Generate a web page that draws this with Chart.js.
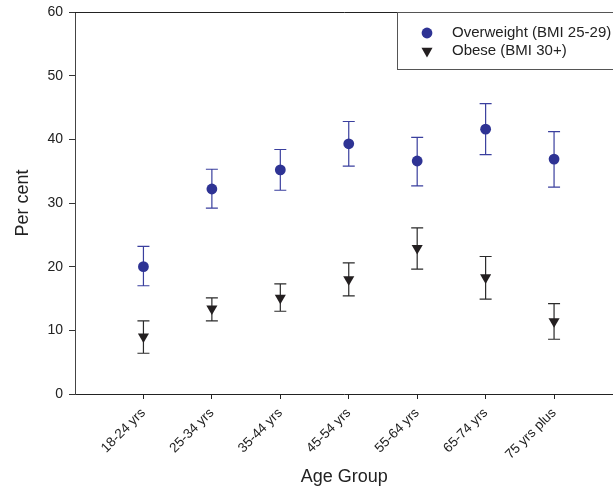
<!DOCTYPE html>
<html>
<head>
<meta charset="utf-8">
<script src="https://cdn.jsdelivr.net/npm/chart.js@4.4.1/dist/chart.umd.min.js"></script>
<style>
  html, body { margin: 0; padding: 0; background: #fff; overflow: hidden; }
  canvas { display: block; }
</style>
</head>
<body>
<!-- a little wider than the page so the plot runs off the right edge -->
<canvas id="bmiChart" width="620" height="488"></canvas>
<script>
// Age groups along the x axis
const ageGroups = ['18-24 yrs', '25-34 yrs', '35-44 yrs', '45-54 yrs', '55-64 yrs', '65-74 yrs', '75 yrs plus'];

// Overweight (BMI 25-29): estimate and confidence limits
const overweight = [20.0, 32.2, 35.2, 39.3, 36.6, 41.6, 36.9];
const overweightLow = [17.0, 29.2, 32.0, 35.8, 32.7, 37.6, 32.5];
const overweightHigh = [23.2, 35.3, 38.4, 42.8, 40.3, 45.6, 41.2];

// Obese (BMI 30+): estimate and confidence limits
const obese = [9.0, 13.4, 15.1, 18.0, 22.9, 18.3, 11.4];
const obeseLow = [6.4, 11.5, 13.0, 15.4, 19.6, 14.9, 8.6];
const obeseHigh = [11.5, 15.1, 17.3, 20.6, 26.1, 21.6, 14.2];

const yTicks = [0, 10, 20, 30, 40, 50, 60];

const FONT = 'Liberation Sans, Arial, sans-serif';

function toPoints(values) {
    return values.map((v, i) => ({ x: i, y: v }));
}

// vertical error bars with caps, drawn under the markers
const errorBars = {
    id: 'errorBars',
    beforeDatasetsDraw(chart) {
        const { ctx, scales: { x, y } } = chart;
        chart.data.datasets.forEach(ds => {
            ctx.save();
            ctx.strokeStyle = ds.barColor;
            ctx.lineWidth = 1.2;
            ds.low.forEach((lo, i) => {
                const px = x.getPixelForValue(i);
                const y1 = y.getPixelForValue(lo);
                const y2 = y.getPixelForValue(ds.high[i]);
                ctx.beginPath();
                ctx.moveTo(px, y1); ctx.lineTo(px, y2);
                ctx.moveTo(px - 6, y1); ctx.lineTo(px + 6, y1);
                ctx.moveTo(px - 6, y2); ctx.lineTo(px + 6, y2);
                ctx.stroke();
            });
            ctx.restore();
        });
    }
};

// top frame line and the boxed legend in the upper right
const frameAndLegend = {
    id: 'frameAndLegend',
    afterDraw(chart) {
        const { ctx, chartArea } = chart;
        ctx.save();
        ctx.strokeStyle = '#222';
        ctx.lineWidth = 1;
        ctx.beginPath();
        ctx.moveTo(chartArea.left, chartArea.top + 0.5);
        ctx.lineTo(chartArea.right, chartArea.top + 0.5);
        ctx.stroke();

        ctx.fillStyle = '#fff';
        ctx.fillRect(397.5, 12.5, 230, 57);
        ctx.strokeStyle = '#555';
        ctx.strokeRect(397.5, 12.5, 230, 57);

        ctx.font = '15px ' + FONT;
        ctx.textBaseline = 'middle';
        ctx.textAlign = 'left';
        chart.data.datasets.forEach((ds, i) => {
            const ly = 33 + i * 18;
            ctx.fillStyle = ds.backgroundColor;
            Chart.helpers.drawPoint(ctx, {
                pointStyle: ds.pointStyle,
                radius: ds.pointRadius,
                rotation: ds.rotation || 0,
                borderWidth: 0
            }, 427, ly);
            ctx.fillStyle = '#222';
            ctx.fillText(ds.label, 452, ly);
        });
        ctx.restore();
    }
};

new Chart(document.getElementById('bmiChart'), {
    type: 'scatter',
    data: {
        datasets: [{
            label: 'Overweight (BMI 25-29)',
            data: toPoints(overweight),
            low: overweightLow,
            high: overweightHigh,
            pointStyle: 'circle',
            pointRadius: 5.4,
            backgroundColor: '#2e3394',
            borderColor: '#2e3394',
            borderWidth: 0,
            barColor: '#3a3f9e'
        }, {
            label: 'Obese (BMI 30+)',
            data: toPoints(obese),
            low: obeseLow,
            high: obeseHigh,
            pointStyle: 'triangle',
            rotation: 180,
            pointRadius: 6.4,
            backgroundColor: '#231f20',
            borderColor: '#231f20',
            borderWidth: 0,
            barColor: '#2a2a2a'
        }]
    },
    options: {
        responsive: false,
        animation: false,
        devicePixelRatio: 1,
        layout: { padding: { top: 12, right: 0, left: 0, bottom: 0 } },
        plugins: {
            legend: { display: false },
            tooltip: { enabled: false }
        },
        elements: { point: { hoverRadius: 6 } },
        scales: {
            x: {
                type: 'linear',
                min: -1,
                max: 6.87,
                afterBuildTicks(scale) {
                    scale.ticks = ageGroups.map((_, i) => ({ value: i }));
                },
                afterFit(scale) {
                    scale.height = 94;
                    scale.paddingLeft = 0;
                    scale.paddingRight = 0;
                },
                grid: { drawOnChartArea: false, drawTicks: true, tickLength: 5, color: '#222' },
                border: { color: '#222', width: 1 },
                ticks: {
                    autoSkip: false,
                    minRotation: 45,
                    maxRotation: 45,
                    padding: 6,
                    color: '#222',
                    font: { family: FONT, size: 13.5 },
                    callback: v => ageGroups[v]
                },
                title: {
                    display: true,
                    text: 'Age Group',
                    color: '#222',
                    font: { family: FONT, size: 18 },
                    padding: { top: 0, bottom: 0 }
                }
            },
            y: {
                min: 0,
                max: 60,
                afterBuildTicks(scale) {
                    scale.ticks = yTicks.map(v => ({ value: v }));
                },
                afterFit(scale) {
                    scale.width = 75;
                    scale.paddingTop = 0;
                    scale.paddingBottom = 0;
                },
                grid: { drawOnChartArea: false, drawTicks: true, tickLength: 6, color: '#333' },
                border: { color: '#444', width: 1 },
                ticks: {
                    padding: 6,
                    color: '#222',
                    font: { family: FONT, size: 14 }
                },
                title: {
                    display: true,
                    text: 'Per cent',
                    color: '#222',
                    font: { family: FONT, size: 18 },
                    padding: { top: 12, bottom: 0 }
                }
            }
        }
    },
    plugins: [errorBars, frameAndLegend]
});
</script>
</body>
</html>
